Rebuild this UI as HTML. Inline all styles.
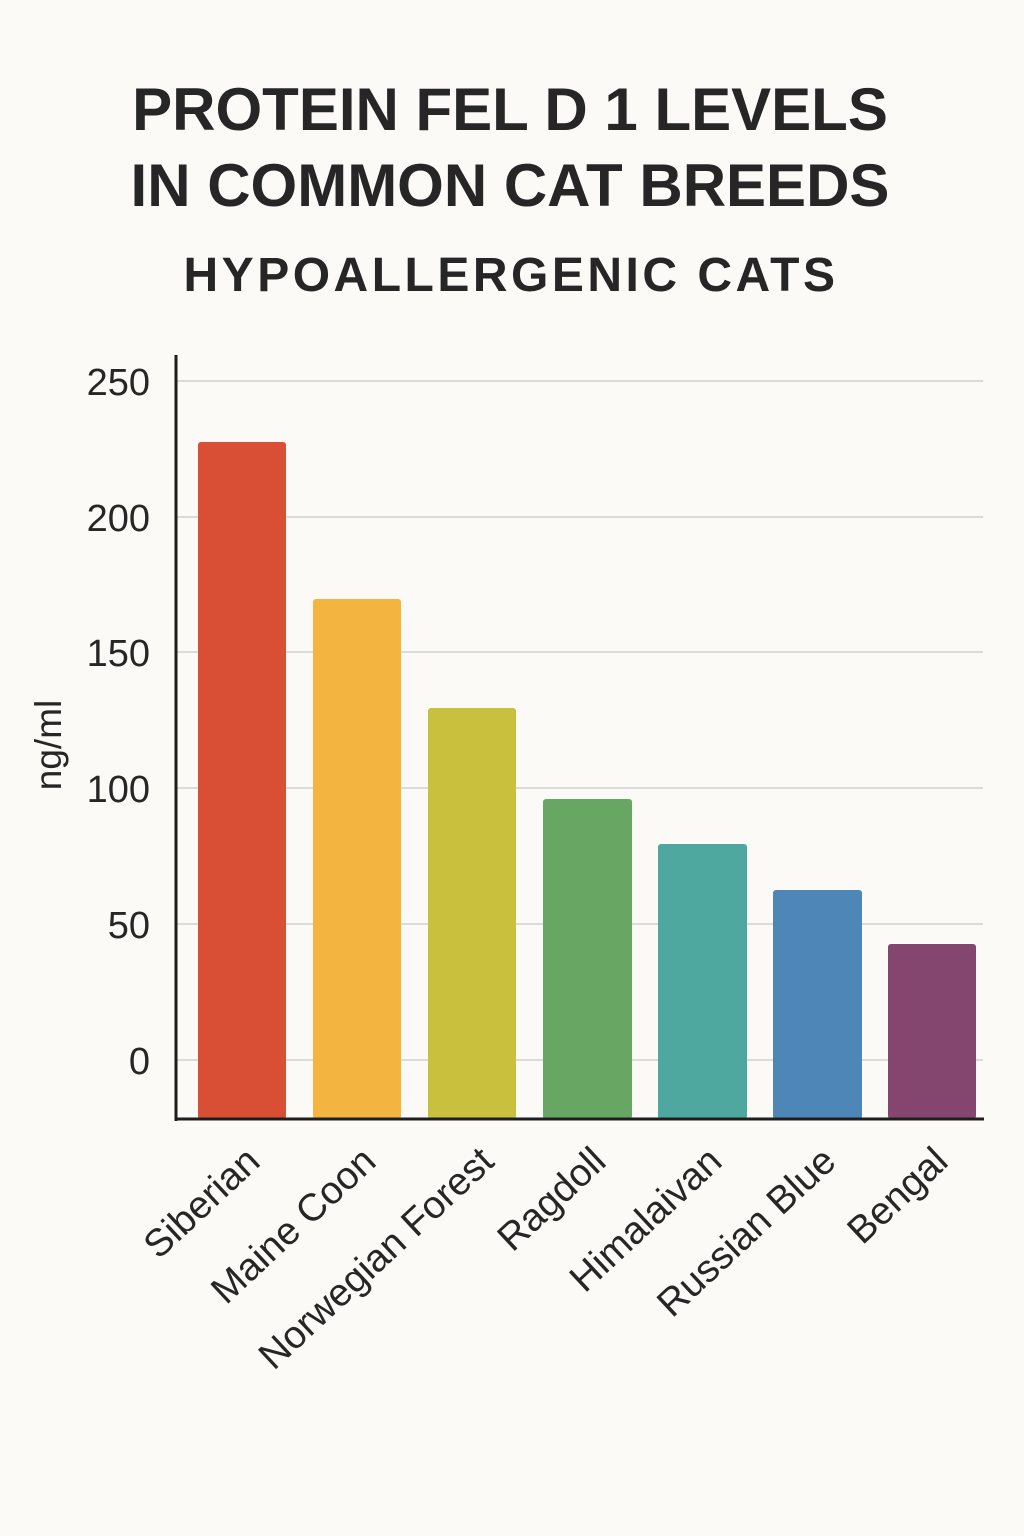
<!DOCTYPE html>
<html><head><meta charset="utf-8"><style>
html,body{margin:0;padding:0;background:#fbfaf6;}
svg{display:block;}
</style></head><body>
<svg width="1024" height="1536" xmlns="http://www.w3.org/2000/svg" font-family="'Liberation Sans','DejaVu Sans',sans-serif">
<rect width="1024" height="1536" fill="#fbfaf6"/>
<g fill="#262626" font-weight="bold" text-anchor="middle">
<text x="510" y="130" font-size="60">PROTEIN FEL D 1 LEVELS</text>
<text x="510" y="206" font-size="60">IN COMMON CAT BREEDS</text>
<text x="511" y="291" font-size="48" letter-spacing="3.5">HYPOALLERGENIC CATS</text>
</g>
<g stroke="#dcdcd6" stroke-width="2">
<line x1="176" y1="381" x2="983" y2="381"/>
<line x1="176" y1="517" x2="983" y2="517"/>
<line x1="176" y1="652" x2="983" y2="652"/>
<line x1="176" y1="788" x2="983" y2="788"/>
<line x1="176" y1="924" x2="983" y2="924"/>
<line x1="176" y1="1060" x2="983" y2="1060"/>
</g>
<g fill="#262626" font-size="38" text-anchor="end">
<text x="150" y="395">250</text>
<text x="150" y="531">200</text>
<text x="150" y="666">150</text>
<text x="150" y="802">100</text>
<text x="150" y="938">50</text>
<text x="150" y="1074">0</text>
</g>
<text transform="translate(61,745) rotate(-90)" font-size="37" fill="#262626" text-anchor="middle">ng/ml</text>
<rect x="198" y="442" width="88" height="677" rx="3" fill="#d84f36"/>
<rect x="313" y="599" width="88" height="520" rx="3" fill="#f4b540"/>
<rect x="428" y="708" width="88" height="411" rx="3" fill="#c9c03d"/>
<rect x="543" y="799" width="89" height="320" rx="3" fill="#67a663"/>
<rect x="658" y="844" width="89" height="275" rx="3" fill="#4fa89f"/>
<rect x="773" y="890" width="89" height="229" rx="3" fill="#4f86b8"/>
<rect x="888" y="944" width="88" height="175" rx="3" fill="#84466e"/>
<line x1="176" y1="355" x2="176" y2="1121" stroke="#1e1e1e" stroke-width="3"/>
<line x1="175" y1="1119" x2="984" y2="1119" stroke="#1e1e1e" stroke-width="3"/>
<g fill="#262626" font-size="38.5" text-anchor="end">
<text transform="translate(262,1164) rotate(-43)">Siberian</text>
<text transform="translate(378,1164) rotate(-43)">Maine Coon</text>
<text transform="translate(496,1164) rotate(-43)">Norwegian Forest</text>
<text transform="translate(608,1164) rotate(-43)">Ragdoll</text>
<text transform="translate(724,1164) rotate(-43)">Himalaivan</text>
<text transform="translate(838,1164) rotate(-43)">Russian Blue</text>
<text transform="translate(950,1164) rotate(-43)">Bengal</text>
</g>
</svg>
</body></html>
